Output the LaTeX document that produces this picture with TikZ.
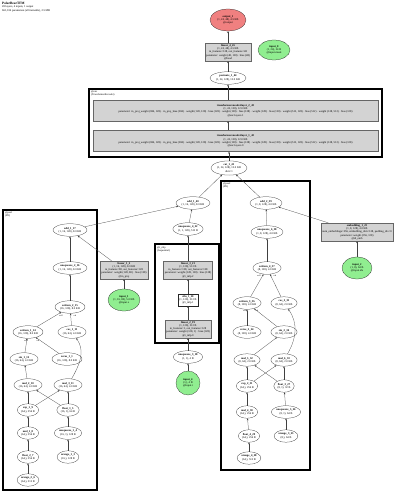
\documentclass[tikz,border=0pt]{standalone}
\usepackage{fontspec}
\setmainfont{Liberation Serif}
\usetikzlibrary{shapes.geometric,arrows.meta}
\definecolor{inpgreen}{HTML}{90EE90}
\definecolor{outred}{HTML}{F08080}
\definecolor{modgray}{HTML}{D3D3D3}
\begin{document}
\begin{tikzpicture}[x=1pt,y=-1pt,
 every node/.style={font=\fontsize{2.8}{3.3}\selectfont, align=center},
 op/.style={ellipse, draw=black!80, line width=0.25pt, inner sep=0.8pt, minimum height=12.5},
 modbox/.style={rectangle, draw=black!60, fill=modgray, line width=0.25pt, inner sep=1.2pt},
 plainbox/.style={rectangle, draw=black!85, line width=0.25pt, inner sep=1.2pt},
 inp/.style={ellipse, draw=black!85, fill=inpgreen, line width=0.25pt, inner sep=0.5pt},
 outp/.style={ellipse, draw=black!85, fill=outred, line width=0.25pt, inner sep=0.5pt},
 edge/.style={draw=black!75, line width=0.25pt, -{Stealth[length=2pt,width=1.6pt]}},
 cluster/.style={draw=black, line width=1.2pt},
 clabel/.style={anchor=north west, inner sep=0pt, align=left, font=\fontsize{2.6}{3}\selectfont},
 elab/.style={inner sep=0pt, font=\fontsize{2.2}{2.5}\selectfont},
]
\useasboundingbox (0,0) rectangle (400,497);

% header
\node[anchor=north west, inner sep=0pt, align=left] (hdr) at (2,2)
 {{\fontsize{3.4}{4}\selectfont\textbf{PolarBearTFM}}\\49 layers, 4 inputs, 1 output\\661,104 parameters (all trainable), 2.5 MB};

% clusters
\draw[cluster] (89,89) rectangle (382,157);
\node[clabel] (encl) at (91,91) {@enc\\(TransformerEncoder)};
\draw[cluster] (3,210) rectangle (97,490);
\node[clabel] (pos1l) at (5,212) {@pos1\\(PE)};
\draw[cluster] (155,244) rectangle (219,343);
\node[clabel] (tmlpl) at (157,246) {@t\_mlp\\(Sequential)};
\draw[cluster] (221,181) rectangle (310,470);
\node[clabel] (pos2l) at (223,183) {@pos2\\(PE)};

% top spine
\node[outp, minimum width=36, minimum height=22] (out) at (228,20) {\textbf{output\_1}\\(1, 24, 48), 4.5 KB\\@output};
\node[modbox] (lin4) at (228,52) {\textbf{linear\_4\_45}\\(1, 24, 48), 4.5 KB\\in\_features=128, out\_features=48\\parameter: weight (48, 128) · bias (48)\\@head};
\node[inp, minimum width=32, minimum height=20] (in0) at (274,50) {\textbf{input\_0}\\(1, 24), 24 B\\@input.mask};
\node[op] (perm) at (228,78) {\textbf{permute\_1\_44}\\(1, 24, 128), 12.0 KB};
\node[modbox, minimum width=285, minimum height=21] (tel2) at (235.5,110.5) {\textbf{transformerencoderlayer\_2\_43}\\(1, 24, 128), 12.0 KB\\parameter: in\_proj\_weight (384, 128) · in\_proj\_bias (384) · weight (128, 128) · bias (128) · weight (128) · bias (128) · weight (128) · bias (128) · weight (512, 128) · bias (512) · weight (128, 512) · bias (128)\\@enc.layers.1};
\node[modbox, minimum width=285, minimum height=21] (tel1) at (235.5,141) {\textbf{transformerencoderlayer\_1\_42}\\(1, 24, 128), 12.0 KB\\parameter: in\_proj\_weight (384, 128) · in\_proj\_bias (384) · weight (128, 128) · bias (128) · weight (128) · bias (128) · weight (128) · bias (128) · weight (512, 128) · bias (512) · weight (128, 512) · bias (128)\\@enc.layers.0};
\node[op] (cat) at (229,168) {\textbf{cat\_1\_41}\\(1, 24, 128), 12.0 KB\\dim=1};
\node[op] (add40) at (193,203) {\textbf{add\_1\_40}\\(1, 16, 128), 8.0 KB};
\node[op] (add39) at (266,203) {\textbf{add\_2\_39}\\(1, 8, 128), 4.0 KB};

% left cluster
\node[op] (add17) at (70,230) {\textbf{add\_1\_17}\\(1, 16, 128), 8.0 KB};
\node[op] (unsq16) at (70,268) {\textbf{unsqueeze\_2\_16}\\(1, 16, 128), 8.0 KB};
\node[op] (set15) at (70,307) {\textbf{setitem\_2\_15}\\(16, 128), 8.0 KB};
\node[op] (set14) at (28,332) {\textbf{setitem\_1\_14}\\(16, 128), 8.0 KB};
\node[op] (cos13) at (72,332) {\textbf{cos\_1\_13}\\(16, 64), 4.0 KB};
\node[op] (sin12) at (24,359) {\textbf{sin\_1\_12}\\(16, 64), 4.0 KB};
\node[op] (zer1) at (67,359) {\textbf{zeros\_1\_1}\\(16, 128), 8.0 KB};
\node[op] (mul10) at (28,385) {\textbf{mul\_2\_10}\\(16, 64), 4.0 KB};
\node[op] (mul11) at (68,385) {\textbf{mul\_3\_11}\\(16, 64), 4.0 KB};
\node[op] (exp9) at (28,410) {\textbf{exp\_1\_9}\\(64,), 256 B};
\node[op] (flt5) at (68,410) {\textbf{float\_1\_5}\\(16, 1), 64 B};
\node[op] (mul8) at (28,433) {\textbf{mul\_1\_8}\\(64,), 256 B};
\node[op] (unsq4) at (68,433) {\textbf{unsqueeze\_1\_4}\\(16, 1), 128 B};
\node[op] (flt7) at (28,457) {\textbf{float\_2\_7}\\(64,), 256 B};
\node[op] (ar3) at (68,457) {\textbf{arange\_1\_3}\\(16,), 128 B};
\node[op] (ar6) at (28,480) {\textbf{arange\_2\_6}\\(64,), 512 B};
\node[elab] (l1a) at (26,341) {self};
\node[elab] (l1b) at (38,341) {val};
\node[elab] (l2a) at (61,316) {self};
\node[elab] (l2b) at (75,316) {val};

\node[modbox] (lin2) at (124,270) {\textbf{linear\_1\_2}\\(1, 16, 128), 8.0 KB\\in\_features=80, out\_features=128\\parameter: weight (128, 80) · bias (128)\\@in\_proj};
\node[inp, minimum width=32, minimum height=22] (in1) at (124,300) {\textbf{input\_1}\\(1, 16, 80), 5.0 KB\\@input.x};

% middle cluster
\node[op] (unsq22) at (188,229) {\textbf{unsqueeze\_4\_22}\\(1, 1, 128), 512 B};
\node[modbox] (lin21) at (188,270) {\textbf{linear\_3\_21}\\(1, 128), 512 B\\in\_features=128, out\_features=128\\parameter: weight (128, 128) · bias (128)\\@t\_mlp.2};
\node[plainbox] (silu) at (188,300) {\textbf{silu\_1\_20}\\(1, 128), 512 B\\@t\_mlp.1};
\node[modbox] (lin19) at (188,329) {\textbf{linear\_2\_19}\\(1, 128), 512 B\\in\_features=1, out\_features=128\\parameter: weight (128, 1) · bias (128)\\@t\_mlp.0};
\node[op] (unsq18) at (188,357) {\textbf{unsqueeze\_3\_18}\\(1, 1), 4 B};
\node[inp, minimum width=24, minimum height=24] (in4) at (188,383) {\textbf{input\_4}\\(1,), 4 B\\@input.t};

% right cluster
\node[op] (unsq38) at (267,232) {\textbf{unsqueeze\_6\_38}\\(1, 8, 128), 4.0 KB};
\node[op] (set37) at (267,268) {\textbf{setitem\_4\_37}\\(8, 128), 4.0 KB};
\node[op] (set36) at (247,303) {\textbf{setitem\_3\_36}\\(8, 128), 4.0 KB};
\node[op] (cos35) at (284,303) {\textbf{cos\_2\_35}\\(8, 64), 2.0 KB};
\node[op] (zer24) at (247,332) {\textbf{zeros\_2\_24}\\(8, 128), 4.0 KB};
\node[op] (sin34) at (284,332) {\textbf{sin\_2\_34}\\(8, 64), 2.0 KB};
\node[op] (mul32) at (247,360) {\textbf{mul\_5\_32}\\(8, 64), 2.0 KB};
\node[op] (mul33) at (284,360) {\textbf{mul\_6\_33}\\(8, 64), 2.0 KB};
\node[op] (exp31) at (247,386) {\textbf{exp\_2\_31}\\(64,), 256 B};
\node[op] (flt27) at (284,386) {\textbf{float\_3\_27}\\(8, 1), 32 B};
\node[op] (mul30) at (247,412) {\textbf{mul\_4\_30}\\(64,), 256 B};
\node[op] (unsq26) at (286,412) {\textbf{unsqueeze\_5\_26}\\(8, 1), 64 B};
\node[op] (flt29) at (249,436) {\textbf{float\_4\_29}\\(64,), 256 B};
\node[op] (ar25) at (286,436) {\textbf{arange\_3\_25}\\(8,), 64 B};
\node[op] (ar28) at (249,458) {\textbf{arange\_4\_28}\\(64,), 512 B};
\node[elab] (l3a) at (245,311) {self};
\node[elab] (l3b) at (257,311) {val};
\node[elab] (l4a) at (259,276) {self};
\node[elab] (l4b) at (275,276) {val};

\node[modbox] (emb) at (357,232) {\textbf{embedding\_1\_23}\\(1, 8, 128), 4.0 KB\\num\_embeddings=256, embedding\_dim=128, padding\_idx=0\\parameter: weight (256, 128)\\@id\_emb};
\node[inp, minimum width=30, minimum height=22] (in2) at (357,268) {\textbf{input\_2}\\(1, 8), 64 B\\@input.ids};

% edges: spine
\draw[edge] (lin4) -- (out);
\draw[edge] (perm) -- (lin4);
\draw[edge] (tel2.north -| perm) -- (perm);
\draw[edge] (tel1.north -| perm) -- (tel2.south -| perm);
\draw[edge] (cat) -- (tel1.south -| cat);
\draw[edge] (add40) -- (cat);
\draw[edge] (add39) -- (cat);
\draw[edge] (unsq22) -- (add40);
\draw[edge] (add17) -- (add40);
% left
\draw[edge] (lin2) -- (add17);
\draw[edge] (in1) -- (lin2);
\draw[edge] (unsq16) -- (add17);
\draw[edge] (set15) -- (unsq16);
\draw[edge] (set14) -- (set15);
\draw[edge] (cos13) -- (set15);
\draw[edge] (sin12) -- (set14);
\draw[edge] (zer1) -- (set14);
\draw[edge] (mul10) -- (sin12);
\draw[edge] (mul11) to[out=60,in=-55] (cos13);
\draw[edge] (exp9) -- (mul10);
\draw[edge] (exp9) -- (mul11);
\draw[edge] (flt5) -- (mul10);
\draw[edge] (flt5) -- (mul11);
\draw[edge] (mul8) -- (exp9);
\draw[edge] (unsq4) -- (flt5);
\draw[edge] (flt7) -- (mul8);
\draw[edge] (ar3) -- (unsq4);
\draw[edge] (ar6) -- (flt7);
% middle
\draw[edge] (in4) -- (unsq18);
\draw[edge] (unsq18) -- (lin19);
\draw[edge] (lin19) -- (silu);
\draw[edge] (silu) -- (lin21);
\draw[edge] (lin21) -- (unsq22);
% right
\draw[edge] (unsq38) -- (add39);
\draw[edge] (emb) -- (add39);
\draw[edge] (in2) -- (emb);
\draw[edge] (set37) -- (unsq38);
\draw[edge] (set36) -- (set37);
\draw[edge] (cos35) -- (set37);
\draw[edge] (zer24) -- (set36);
\draw[edge] (sin34) -- (set36);
\draw[edge] (mul32) -- (sin34);
\draw[edge] (mul33) to[out=60,in=-55] (cos35);
\draw[edge] (exp31) -- (mul32);
\draw[edge] (exp31) -- (mul33);
\draw[edge] (flt27) -- (mul32);
\draw[edge] (flt27) -- (mul33);
\draw[edge] (mul30) -- (exp31);
\draw[edge] (unsq26) -- (flt27);
\draw[edge] (flt29) -- (mul30);
\draw[edge] (ar25) -- (unsq26);
\draw[edge] (ar28) -- (flt29);
\end{tikzpicture}
\end{document}
